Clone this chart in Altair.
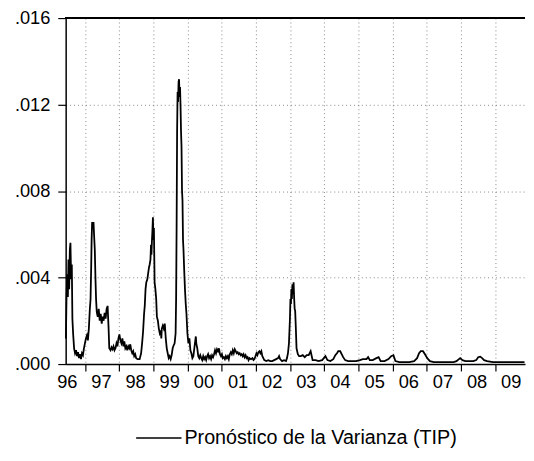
import altair as alt
import pandas as pd

series_name = "Pronóstico de la Varianza (TIP)"

years = [
    1996.437, 1996.454, 1996.475, 1996.495, 1996.512, 1996.532, 1996.552, 1996.570, 1996.590, 1996.610,
    1996.627, 1996.648, 1996.677, 1996.705, 1996.734, 1996.763, 1996.792, 1996.821, 1996.850, 1996.879,
    1996.907, 1996.936, 1996.965, 1996.994, 1997.023, 1997.052, 1997.081, 1997.109, 1997.138, 1997.159,
    1997.176, 1997.190, 1997.205, 1997.225, 1997.245, 1997.262, 1997.283, 1997.303, 1997.320, 1997.340,
    1997.369, 1997.398, 1997.427, 1997.456, 1997.485, 1997.513, 1997.542, 1997.571, 1997.600, 1997.629,
    1997.658, 1997.687, 1997.707, 1997.744, 1997.773, 1997.802, 1997.831, 1997.860, 1997.889, 1997.918,
    1997.946, 1997.975, 1998.004, 1998.033, 1998.062, 1998.091, 1998.120, 1998.148, 1998.177, 1998.206,
    1998.235, 1998.264, 1998.293, 1998.322, 1998.350, 1998.379, 1998.408, 1998.437, 1998.466, 1998.495,
    1998.538, 1998.596, 1998.639, 1998.668, 1998.697, 1998.726, 1998.746, 1998.769, 1998.792, 1998.821,
    1998.841, 1998.870, 1998.890, 1998.913, 1998.928, 1998.942, 1998.957, 1998.971, 1998.985, 1999.000,
    1999.014, 1999.034, 1999.057, 1999.081, 1999.101, 1999.130, 1999.158, 1999.187, 1999.216, 1999.231,
    1999.245, 1999.274, 1999.303, 1999.332, 1999.361, 1999.390, 1999.418, 1999.447, 1999.476, 1999.505,
    1999.534, 1999.563, 1999.592, 1999.620, 1999.649, 1999.664, 1999.678, 1999.693, 1999.707, 1999.721,
    1999.736, 1999.750, 1999.765, 1999.779, 1999.794, 1999.808, 1999.822, 1999.837, 1999.851, 1999.866,
    1999.880, 1999.900, 1999.923, 1999.946, 1999.967, 1999.995, 2000.024, 2000.053, 2000.082, 2000.111,
    2000.140, 2000.169, 2000.197, 2000.226, 2000.241, 2000.255, 2000.284, 2000.313, 2000.342, 2000.371,
    2000.400, 2000.428, 2000.457, 2000.486, 2000.515, 2000.544, 2000.573, 2000.601, 2000.630, 2000.659,
    2000.688, 2000.717, 2000.746, 2000.775, 2000.803, 2000.832, 2000.861, 2000.890, 2000.919, 2000.948,
    2000.977, 2001.005, 2001.034, 2001.063, 2001.092, 2001.121, 2001.150, 2001.179, 2001.207, 2001.236,
    2001.265, 2001.294, 2001.323, 2001.352, 2001.381, 2001.409, 2001.438, 2001.467, 2001.496, 2001.525,
    2001.554, 2001.583, 2001.611, 2001.640, 2001.669, 2001.698, 2001.727, 2001.756, 2001.785, 2001.813,
    2001.857, 2001.900, 2001.929, 2001.958, 2001.987, 2002.016, 2002.044, 2002.073, 2002.102, 2002.131,
    2002.160, 2002.189, 2002.218, 2002.246, 2002.304, 2002.362, 2002.420, 2002.477, 2002.535, 2002.593,
    2002.651, 2002.679, 2002.708, 2002.766, 2002.824, 2002.881, 2002.910, 2002.939, 2002.968, 2002.997,
    2003.011, 2003.026, 2003.040, 2003.054, 2003.069, 2003.083, 2003.104, 2003.121, 2003.135, 2003.150,
    2003.170, 2003.190, 2003.228, 2003.265, 2003.314, 2003.372, 2003.430, 2003.488, 2003.545, 2003.603,
    2003.661, 2003.747, 2003.834, 2003.941, 2004.036, 2004.094, 2004.180, 2004.267, 2004.325, 2004.374,
    2004.411, 2004.469, 2004.526, 2004.555, 2004.613, 2004.700, 2004.815, 2004.930, 2005.046, 2005.132,
    2005.239, 2005.286, 2005.335, 2005.421, 2005.528, 2005.594, 2005.652, 2005.767, 2005.883, 2005.961,
    2006.027, 2006.085, 2006.200, 2006.345, 2006.489, 2006.633, 2006.720, 2006.778, 2006.827, 2006.893,
    2006.951, 2007.017, 2007.095, 2007.210, 2007.499, 2007.788, 2007.874, 2007.981, 2008.048, 2008.134,
    2008.249, 2008.365, 2008.451, 2008.509, 2008.567, 2008.625, 2008.682, 2008.769, 2008.942, 2009.231,
    2009.519, 2009.865,
]

variance = [
    0.001185, 0.003008, 0.004148, 0.003099, 0.004831, 0.003464, 0.005287, 0.005606, 0.003920, 0.004604,
    0.002097, 0.001413, 0.000729, 0.000501, 0.000638, 0.000365, 0.000547, 0.000273, 0.000456, 0.000228,
    0.000501, 0.000410, 0.000729, 0.000957, 0.001185, 0.001322, 0.001094, 0.001641, 0.002552, 0.003008,
    0.004376, 0.005743, 0.006564, 0.006290, 0.006564, 0.005971, 0.005287, 0.003920, 0.003008, 0.002416,
    0.002188, 0.002552, 0.002006, 0.002325, 0.001869, 0.002188, 0.002006, 0.002370, 0.002097, 0.002552,
    0.002689, 0.001641, 0.000729, 0.000638, 0.000775, 0.000684, 0.000820, 0.000638, 0.000729, 0.000957,
    0.000820, 0.001185, 0.001367, 0.001094, 0.000957, 0.001185, 0.000820, 0.001048, 0.000729, 0.000820,
    0.000638, 0.000820, 0.000729, 0.000912, 0.000638, 0.000501, 0.000593, 0.000365, 0.000456, 0.000273,
    0.000228, 0.000228, 0.000501, 0.000957, 0.001504, 0.002325, 0.002689, 0.003464, 0.003783, 0.003920,
    0.004148, 0.004467, 0.004604, 0.004831, 0.005515, 0.005059, 0.005743, 0.006199, 0.006791, 0.005743,
    0.006290, 0.003783, 0.003464, 0.003008, 0.002188, 0.002006, 0.001641, 0.001413, 0.001504, 0.001185,
    0.001641, 0.001778, 0.001641, 0.001869, 0.001185, 0.000729, 0.000501, 0.000273, 0.000365, 0.000228,
    0.000410, 0.000729, 0.000866, 0.000957, 0.001413, 0.003008, 0.006199, 0.010757, 0.012580, 0.012124,
    0.013036, 0.013173, 0.012352, 0.012808, 0.011896, 0.010757, 0.010073, 0.008022, 0.007566, 0.005743,
    0.005287, 0.004376, 0.003464, 0.002780, 0.002325, 0.001413, 0.000957, 0.001185, 0.000638, 0.000501,
    0.000273, 0.000365, 0.000729, 0.001094, 0.001276, 0.000957, 0.000729, 0.000365, 0.000273, 0.000410,
    0.000273, 0.000182, 0.000365, 0.000228, 0.000319, 0.000182, 0.000365, 0.000456, 0.000273, 0.000365,
    0.000228, 0.000410, 0.000319, 0.000456, 0.000638, 0.000501, 0.000684, 0.000593, 0.000729, 0.000456,
    0.000365, 0.000456, 0.000273, 0.000319, 0.000228, 0.000365, 0.000273, 0.000365, 0.000228, 0.000456,
    0.000547, 0.000456, 0.000638, 0.000501, 0.000684, 0.000593, 0.000501, 0.000547, 0.000456, 0.000501,
    0.000410, 0.000456, 0.000365, 0.000456, 0.000319, 0.000410, 0.000273, 0.000319, 0.000182, 0.000273,
    0.000228, 0.000273, 0.000182, 0.000228, 0.000365, 0.000501, 0.000410, 0.000547, 0.000593, 0.000501,
    0.000593, 0.000365, 0.000273, 0.000182, 0.000137, 0.000182, 0.000137, 0.000137, 0.000182, 0.000228,
    0.000273, 0.000365, 0.000228, 0.000137, 0.000182, 0.000137, 0.000273, 0.000501, 0.000957, 0.002097,
    0.003008, 0.002780, 0.003464, 0.003008, 0.003692, 0.003236, 0.003783, 0.003008, 0.002552, 0.002461,
    0.001641, 0.000729, 0.000456, 0.000365, 0.000365, 0.000410, 0.000319, 0.000410, 0.000410, 0.000593,
    0.000182, 0.000182, 0.000137, 0.000182, 0.000365, 0.000182, 0.000137, 0.000228, 0.000410, 0.000501,
    0.000593, 0.000593, 0.000410, 0.000319, 0.000182, 0.000137, 0.000137, 0.000137, 0.000182, 0.000228,
    0.000228, 0.000319, 0.000182, 0.000182, 0.000273, 0.000319, 0.000137, 0.000137, 0.000228, 0.000365,
    0.000410, 0.000137, 0.000091, 0.000091, 0.000091, 0.000137, 0.000273, 0.000501, 0.000593, 0.000593,
    0.000456, 0.000273, 0.000137, 0.000091, 0.000091, 0.000091, 0.000137, 0.000273, 0.000182, 0.000137,
    0.000137, 0.000137, 0.000182, 0.000319, 0.000342, 0.000273, 0.000182, 0.000137, 0.000091, 0.000091,
    0.000091, 0.000091,
]

x_label_years = [1996.5 + i for i in range(14)]   # labels 96 ... 09 (mid-year)
y_ticks = [0.0, 0.004, 0.008, 0.012, 0.016]
top_value = 0.016

df = pd.DataFrame({"t": years, "v": variance, "serie": series_name})

W, H = 466, 351
X0, X1 = 1996.43, 2009.88
PPY = W / (X1 - X0)
FONT = "Liberation Sans"
GRID = "#7a7a7a"

x_axis = alt.Axis(
    values=x_label_years,
    title=None,
    labelExpr="substring(toString(floor(datum.value)), 2)",
    tickOffset=PPY / 2,
    labelOffset=-PPY / 2 - 1.3,
    tickSize=7,
    tickColor="black",
    tickWidth=1.2,
    tickOpacity={"condition": {"test": "datum.value > 2009", "value": 0}, "value": 1},
    domainColor="black",
    domainWidth=1.5,
    grid=True,
    gridColor=GRID,
    gridDash=[1, 3],
    gridWidth=1,
    gridOpacity={"condition": {"test": "datum.value > 2009", "value": 0}, "value": 0.9},
    labelFlush=False,
    labelOverlap=False,
    labelBound=False,
    labelFont=FONT,
    labelFontSize=18.5,
    labelColor="black",
    labelPadding=2,
)

y_axis = alt.Axis(
    values=y_ticks,
    title=None,
    labelExpr="substring(format(datum.value, '.3f'), 1)",
    tickSize=8,
    tickColor="black",
    tickWidth=1.2,
    domainColor="black",
    domainWidth=1.5,
    grid=True,
    gridColor=GRID,
    gridDash=[1, 3],
    gridWidth=1,
    gridOpacity={"condition": {"test": "datum.value > 0.0001 && datum.value < 0.0159", "value": 0.9}, "value": 0},
    labelFont=FONT,
    labelFontSize=18.5,
    labelColor="black",
    labelPadding=8,
)

line = alt.Chart(df).mark_line(strokeWidth=1.8, strokeJoin="miter").encode(
    x=alt.X("t:Q", scale=alt.Scale(domain=[X0, X1], nice=False, zero=False), axis=x_axis),
    y=alt.Y("v:Q", scale=alt.Scale(domain=[0, 0.016], nice=False), axis=y_axis),
    color=alt.Color(
        "serie:N",
        scale=alt.Scale(range=["black"]),
        legend=alt.Legend(
            title=None,
            orient="none",
            legendX=70.5,
            legendY=402,
            symbolType="stroke",
            symbolSize=2116,
            symbolStrokeWidth=1.5,
            labelFont=FONT,
            labelFontSize=20,
            labelColor="black",
            labelOffset=2,
            labelLimit=0,
            padding=0,
        ),
    ),
)

top = alt.Chart(df).mark_rule(color="black", strokeWidth=1.5).encode(
    y=alt.datum(top_value)
)

chart = alt.layer(line, top).properties(
    width=W,
    height=H,
    padding={"left": 58.5, "top": 7, "right": 1, "bottom": 86},
    autosize=alt.AutoSizeParams(type="none"),
    background="white",
).configure_view(stroke=None)

chart.save("out.html", embed_options={"renderer": "svg", "actions": False})
